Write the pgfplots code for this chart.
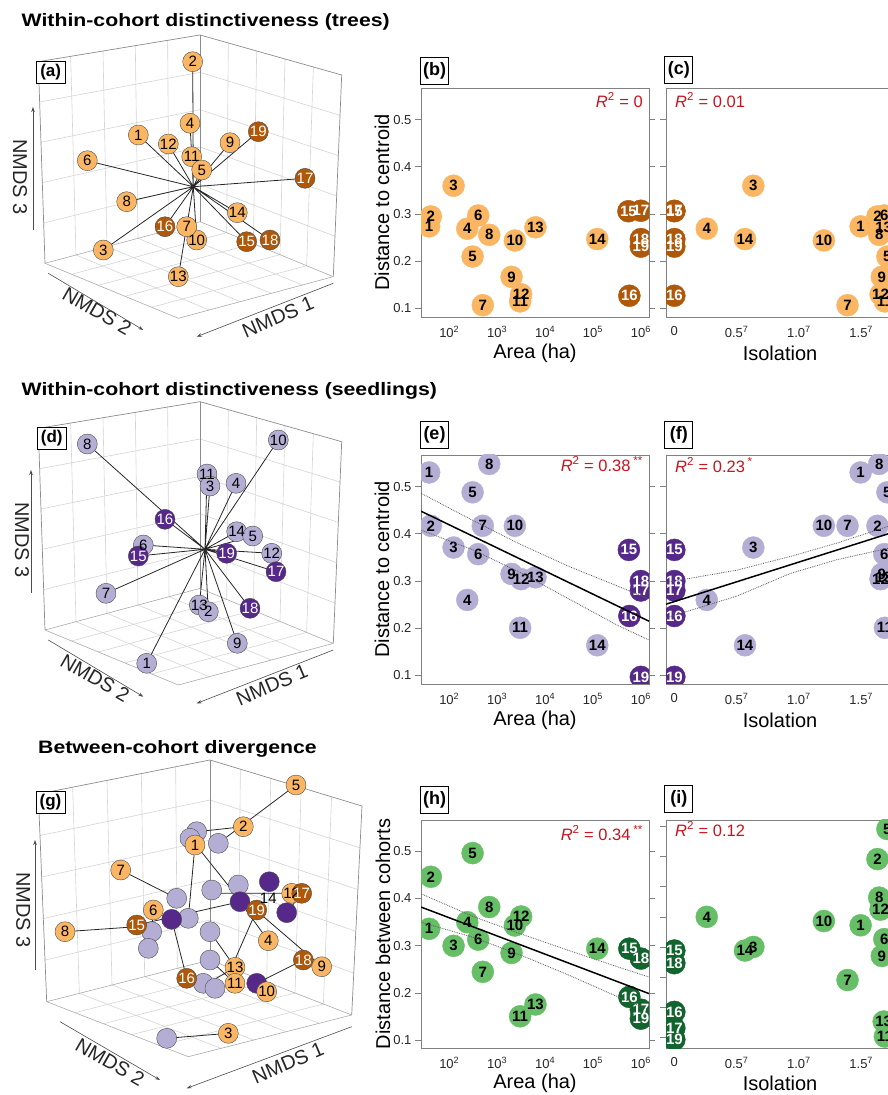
\documentclass[border=0pt]{standalone}
\usepackage{pgfplots}
\pgfplotsset{compat=1.18}
\usepackage{pgfplotstable}
\usepackage{fontspec}
\setmainfont{Liberation Sans}
\usetikzlibrary{calc,arrows.meta}

\definecolor{orL}{RGB}{250,182,98}
\definecolor{orD}{RGB}{176,88,10}
\definecolor{puL}{RGB}{180,173,212}
\definecolor{puD}{RGB}{86,40,138}
\definecolor{grL}{RGB}{102,190,102}
\definecolor{grD}{RGB}{18,100,46}
\definecolor{rr}{RGB}{200,20,30}
\definecolor{gridc}{RGB}{212,212,212}
\definecolor{boxc}{RGB}{140,140,140}

% ---------- 2D data: id, log10(area), isolation, distance, class, group
\pgfplotstableread{
id la iso y c g
1 1.58 1.495 0.274 L 0
2 1.615 1.63 0.295 L 0
3 2.09 0.634 0.360 L 0
4 2.376 0.26 0.269 L 0
5 2.487 1.71 0.210 L 0
6 2.605 1.685 0.297 L 0
7 2.70 1.39 0.107 L 0
8 2.835 1.644 0.256 L 0
9 3.30 1.665 0.167 L 0
10 3.37 1.20 0.244 L 0
11 3.48 1.69 0.115 L 0
12 3.50 1.655 0.130 L 0
13 3.80 1.68 0.272 L 0
14 5.09 0.567 0.247 L 0
15 5.74 0 0.306 D 1
16 5.76 0 0.127 D 1
17 6.00 0 0.307 D 1
18 6.00 0 0.247 D 1
19 6.00 0 0.231 D 1
}\rowA

\pgfplotstableread{
id la iso y c g
1 1.58 1.495 0.530 L 0
2 1.615 1.63 0.417 L 0
3 2.09 0.634 0.371 L 0
4 2.376 0.26 0.260 L 0
5 2.487 1.71 0.488 L 0
6 2.605 1.685 0.357 L 0
7 2.70 1.39 0.417 L 0
8 2.835 1.644 0.548 L 0
9 3.30 1.665 0.315 L 0
10 3.37 1.20 0.417 L 0
11 3.48 1.69 0.201 L 0
12 3.50 1.655 0.304 L 0
13 3.80 1.68 0.308 L 0
14 5.09 0.567 0.164 L 0
15 5.75 0 0.366 D 1
16 5.76 0 0.226 D 1
17 6.00 0 0.280 D 1
18 6.00 0 0.300 D 1
19 6.00 0 0.097 D 1
}\rowB

\pgfplotstableread{
id la iso y c g
1 1.58 1.495 0.336 L 0
2 1.615 1.63 0.446 L 0
3 2.09 0.634 0.300 L 0
4 2.376 0.26 0.350 L 0
5 2.487 1.71 0.496 L 0
6 2.605 1.685 0.313 L 0
7 2.70 1.39 0.245 L 0
8 2.835 1.644 0.382 L 0
9 3.30 1.665 0.285 L 0
10 3.37 1.20 0.343 L 0
11 3.48 1.69 0.151 L 0
12 3.50 1.655 0.362 L 0
13 3.80 1.68 0.176 L 0
14 5.09 0.567 0.294 L 0
15 5.76 0 0.294 D 1
16 5.76 0 0.192 D 1
17 6.00 0 0.165 D 1
18 6.00 0 0.273 D 1
19 6.00 0 0.146 D 1
}\rowC

% ---------- 3D panels, projected positions (pixels, y downwards)
\pgfplotstableread{
x y c g lab
192.7 61.7 L 0 2
190 123.3 L 0 4
138.3 135 L 0 1
168.3 144 L 0 12
191.7 156.7 L 0 11
201.7 170 L 0 5
230 142.7 L 0 9
258.3 131.7 D 1 19
87.3 160.7 L 0 6
305 178.3 D 1 17
126.7 201.7 L 0 8
237.3 212.7 L 0 14
196.7 240 L 0 10
165 226.7 D 1 16
186.7 226.7 L 0 7
103.3 250 L 0 3
270 240 D 1 18
246.7 241.7 D 1 15
178.3 276.7 L 0 13
}\tdA

\pgfplotstableread{
x y c g lab
207 474 L 0 11
210 486 L 0 3
236 483.3 L 0 4
278.3 440 L 0 10
87.3 444 L 0 8
236.7 531.7 L 0 14
252.7 536 L 0 5
271.7 553.3 L 0 12
143.3 545 L 0 6
146.7 663.3 L 0 1
199.3 605 L 0 13
208.3 611.7 L 0 2
237.3 643.3 L 0 9
106 593.3 L 0 7
165 519.3 D 1 16
138.3 556 D 1 15
226.7 553.3 D 1 19
276 571.7 D 1 17
250 608.3 D 1 18
}\tdD

\pgfplotstableread{
x y c
196.7 831.7 L
190 838.3 L
218.3 843.3 L
176.7 898.3 L
211.7 890 L
238.3 885 L
188.3 918.3 L
151.7 931.7 L
148.3 948.3 L
210 931.7 L
210 960 L
203.3 983.3 L
215 988.3 L
166.7 1038.3 L
269.3 881.7 D
240 901.7 D
171.7 919.3 D
286.7 912.7 D
256.7 983.3 D
}\tdGs

\pgfplotstableread{
x y c g lab
296 785 L 0 5
243.3 826.7 L 0 2
195 845 L 0 1
120.7 870 L 0 7
291.7 893.3 L 0 12
301.7 893.3 D 1 17
153.3 910 L 0 6
256.7 910 D 1 19
136.7 925 D 1 15
65 931.7 L 0 8
268.3 940.7 L 0 4
303.3 960 D 1 18
321.7 966.7 L 0 9
235 967.3 L 0 13
186.7 978.3 D 1 16
235 983.3 L 0 11
266.7 991.7 L 0 10
228.3 1033.3 L 0 3
}\tdGt

\pgfplotsset{
  /pgf/number format/assume math mode=true,
  circ/.style n args={3}{scatter, only marks, mark size=#3,
    scatter src=explicit symbolic,
    scatter/classes={L={mark=*, fill=#1, draw=#1}, D={mark=*, fill=#2, draw=#2}}},
  circ3/.style 2 args={scatter, only marks, mark size=10pt,
    scatter src=explicit symbolic,
    scatter/classes={L={mark=*, fill=#1, draw=black!70}, D={mark=*, fill=#2, draw=black!70}}},
  labs/.style 2 args={draw=none, mark=none, point meta=explicit symbolic,
    nodes near coords, nodes near coords align=center,
    restrict expr to domain={\thisrow{g}}{#2:#2},
    every node near coord/.append style={font=\bfseries\fontsize{15}{15}\selectfont,
      text=#1, inner sep=0pt, anchor=center}},
  labs3/.style 2 args={draw=none, mark=none, point meta=explicit symbolic,
    nodes near coords, nodes near coords align=center,
    restrict expr to domain={\thisrow{g}}{#2:#2},
    every node near coord/.append style={font=\fontsize{15}{15}\selectfont,
      text=#1, inner sep=0pt, anchor=center}},
  seg/.style={line width=0.8pt, black!85, unbounded coords=jump},
  pan/.style={scale only axis, width=228pt, height=229pt,
    clip mode=individual, clip marker paths=true,
    axis line style={draw=black!50, line width=0.7pt},
    tick align=outside, major tick length=6pt,
    xtick style={draw=none}, ytick style={draw=black!50, line width=0.7pt},
    ymin=0.082, ymax=0.567, ytick={0.1,0.2,0.3,0.4,0.5},
    tick label style={font=\fontsize{13}{15}\selectfont, text=black!85},
    label style={font=\fontsize{20}{24}\selectfont},
    xlabel style={at={(axis description cs:0.5,-0.157)}, anchor=center},
    ylabel style={at={(axis description cs:-0.171,0.5)}, anchor=center}},
  areaax/.style={pan, xmin=1.41, xmax=6.17, xtick={2,3,4,5,6},
    xticklabels={10\textsuperscript{2},10\textsuperscript{3},10\textsuperscript{4},10\textsuperscript{5},10\textsuperscript{6}},
    yticklabels={0.1,0.2,0.3,0.4,0.5}, xlabel={Area (ha)}},
  isoax/.style={pan, xmin=-0.067, xmax=1.763, xtick={0,0.5,1,1.5},
    xticklabels={0,0.5\textsuperscript{7},1.0\textsuperscript{7},1.5\textsuperscript{7}},
    yticklabels={}, xlabel={Isolation}},
  regl/.style={black, line width=1.5pt},
  band/.style={black!65, densely dotted, line width=0.8pt},
}

\newcommand{\cube}[7]{%
  \begin{scope}[x=1pt,y=-1pt,shift={(0pt,1095pt)}]
  \coordinate (TL) at #1; \coordinate (TB) at #2; \coordinate (TR) at #3;
  \coordinate (BL) at #4; \coordinate (BB) at #5; \coordinate (BR) at #6;
  \coordinate (BF) at #7;
  \foreach \k in {1,2,3,4}{
    \draw[gridc, line width=0.6pt] ($(TL)!\k/5!(TB)$) -- ($(BL)!\k/5!(BB)$);
    \draw[gridc, line width=0.6pt] ($(TL)!\k/5!(BL)$) -- ($(TB)!\k/5!(BB)$);
    \draw[gridc, line width=0.6pt] ($(TB)!\k/5!(TR)$) -- ($(BB)!\k/5!(BR)$);
    \draw[gridc, line width=0.6pt] ($(TB)!\k/5!(BB)$) -- ($(TR)!\k/5!(BR)$);
    \draw[gridc, line width=0.6pt] ($(BL)!\k/5!(BB)$) -- ($(BF)!\k/5!(BR)$);
    \draw[gridc, line width=0.6pt] ($(BB)!\k/5!(BR)$) -- ($(BL)!\k/5!(BF)$);
  }
  \draw[boxc, line width=0.7pt] (BL) -- (TL) -- (TB) -- (TR) -- (BR);
  \draw[boxc, line width=0.7pt] (TB) -- (BB);
  \draw[gridc!80!black, line width=0.6pt] (BL) -- (BB) -- (BR);
  \draw[gridc!80!black, line width=0.6pt] (BL) -- (BF) -- (BR);
  \end{scope}}

\begin{document}
\begin{tikzpicture}

% 3D boxes
\cube{(38.3,61.7)}{(200,35)}{(341.7,75)}{(45,263.3)}{(200,221.7)}{(333.3,276.7)}{(178.3,318.3)}
\cube{(38.3,428.4)}{(200,401.7)}{(341.7,441.7)}{(45,630)}{(200,588.4)}{(333.3,643.4)}{(178.3,685)}
\cube{(38.3,794)}{(210,760)}{(362,806)}{(46.7,1001.7)}{(210,960)}{(351.7,1015)}{(188.3,1056.7)}

% overlay axis for the projected 3D ordinations
\begin{axis}[at={(0pt,0pt)}, anchor=south west, scale only axis,
  width=887pt, height=1095pt, xmin=0, xmax=887, ymin=0, ymax=1095,
  y dir=reverse, hide axis, clip=false]
% (a)
\addplot[circ3={orL}{orD}] table[x=x,y=y,meta=c]{\tdA};
\addplot[labs3={black}{0}] table[x=x,y=y,meta=lab]{\tdA};
\addplot[labs3={white}{1}] table[x=x,y=y,meta=lab]{\tdA};
\addplot[seg] coordinates {
(193.3,186.7)(192.7,61.7)(nan,nan) (193.3,186.7)(190,123.3)(nan,nan)
(193.3,186.7)(138.3,135)(nan,nan) (193.3,186.7)(168.3,144)(nan,nan)
(193.3,186.7)(191.7,156.7)(nan,nan) (193.3,186.7)(201.7,170)(nan,nan)
(193.3,186.7)(230,142.7)(nan,nan) (193.3,186.7)(258.3,131.7)(nan,nan)
(193.3,186.7)(87.3,160.7)(nan,nan) (193.3,186.7)(305,178.3)(nan,nan)
(193.3,186.7)(126.7,201.7)(nan,nan) (193.3,186.7)(237.3,212.7)(nan,nan)
(193.3,186.7)(196.7,240)(nan,nan) (193.3,186.7)(165,226.7)(nan,nan)
(193.3,186.7)(186.7,226.7)(nan,nan) (193.3,186.7)(103.3,250)(nan,nan)
(193.3,186.7)(270,240)(nan,nan) (193.3,186.7)(246.7,241.7)(nan,nan)
(193.3,186.7)(178.3,276.7)};
% (d)
\addplot[circ3={puL}{puD}] table[x=x,y=y,meta=c]{\tdD};
\addplot[labs3={black}{0}] table[x=x,y=y,meta=lab]{\tdD};
\addplot[labs3={white}{1}] table[x=x,y=y,meta=lab]{\tdD};
\addplot[seg] coordinates {
(205,549.3)(207,474)(nan,nan) (205,549.3)(210,486)(nan,nan)
(205,549.3)(236,483.3)(nan,nan) (205,549.3)(278.3,440)(nan,nan)
(205,549.3)(87.3,444)(nan,nan) (205,549.3)(236.7,531.7)(nan,nan)
(205,549.3)(252.7,536)(nan,nan) (205,549.3)(271.7,553.3)(nan,nan)
(205,549.3)(143.3,545)(nan,nan) (205,549.3)(146.7,663.3)(nan,nan)
(205,549.3)(199.3,605)(nan,nan) (205,549.3)(208.3,611.7)(nan,nan)
(205,549.3)(237.3,643.3)(nan,nan) (205,549.3)(106,593.3)(nan,nan)
(205,549.3)(165,519.3)(nan,nan) (205,549.3)(138.3,556)(nan,nan)
(205,549.3)(226.7,553.3)(nan,nan) (205,549.3)(276,571.7)(nan,nan)
(205,549.3)(250,608.3)};
% (g)
\addplot[circ3={puL}{puD}] table[x=x,y=y,meta=c]{\tdGs};
\addplot[circ3={orL}{orD}] table[x=x,y=y,meta=c]{\tdGt};
\addplot[labs3={black}{0}] table[x=x,y=y,meta=lab]{\tdGt};
\addplot[labs3={white}{1}] table[x=x,y=y,meta=lab]{\tdGt};
\addplot[draw=none, mark=none, nodes near coords={14}, nodes near coords align=center,
  every node near coord/.append style={font=\fontsize{15}{15}\selectfont, inner sep=0pt, anchor=center}]
  coordinates {(268.3,898.3)};
\addplot[seg] coordinates {
(296,785)(218.3,843.3)(nan,nan) (243.3,826.7)(196.7,831.7)(nan,nan)
(195,845)(188.3,918.3)(nan,nan) (200,850)(238.3,898)(nan,nan)
(120.7,870)(176.7,898.3)(nan,nan) (65,931.7)(136.7,926.7)(nan,nan)
(153.3,910)(151.7,931.7)(nan,nan) (136.7,925)(240,901.7)(nan,nan)
(211.7,893.3)(291.7,893.3)(nan,nan) (301.7,893.3)(286.7,912.7)(nan,nan)
(268.3,940.7)(240,901.7)(nan,nan) (321.7,966.7)(250,905)(nan,nan)
(256.7,910)(233.3,963.3)(nan,nan) (186.7,978.3)(171.7,919.3)(nan,nan)
(235,967.3)(210,931.7)(nan,nan) (235,983.3)(210,960)(nan,nan)
(205,985)(235,967.3)(nan,nan) (303.3,960)(256.7,983.3)(nan,nan)
(228.3,1033.3)(166.7,1038.3)};
\end{axis}

% (b)
\begin{axis}[areaax, at={(421pt,778pt)}, anchor=south west, ylabel={Distance to centroid}]
\addplot[circ={orL}{orD}{11pt}] table[x=la,y=y,meta=c]{\rowA};
\addplot[labs={black}{0}] table[x=la,y=y,meta=id]{\rowA};
\addplot[labs={white}{1}] table[x=la,y=y,meta=id]{\rowA};
\end{axis}
% (c)
\begin{axis}[isoax, at={(666pt,778pt)}, anchor=south west]
\addplot[circ={orL}{orD}{11pt}] table[x=iso,y=y,meta=c]{\rowA};
\addplot[labs={black}{0}] table[x=iso,y=y,meta=id]{\rowA};
\addplot[labs={white}{1}] table[x=iso,y=y,meta=id]{\rowA};
\end{axis}
% (e)
\begin{axis}[areaax, at={(421pt,411pt)}, anchor=south west, ylabel={Distance to centroid}]
\addplot[circ={puL}{puD}{11pt}] table[x=la,y=y,meta=c]{\rowB};
\addplot[labs={black}{0}] table[x=la,y=y,meta=id]{\rowB};
\addplot[labs={white}{1}] table[x=la,y=y,meta=id]{\rowB};
\addplot[band] coordinates {(1.41,0.486)(2.5,0.428)(3.5,0.377)(4.5,0.331)(5.5,0.290)(6.17,0.262)};
\addplot[band] coordinates {(1.41,0.408)(2.5,0.366)(3.5,0.317)(4.5,0.262)(5.5,0.207)(6.17,0.175)};
\addplot[regl] coordinates {(1.41,0.448)(6.17,0.215)};
\end{axis}
% (f)
\begin{axis}[isoax, at={(666pt,411pt)}, anchor=south west]
\addplot[circ={puL}{puD}{11pt}] table[x=iso,y=y,meta=c]{\rowB};
\addplot[labs={black}{0}] table[x=iso,y=y,meta=id]{\rowB};
\addplot[labs={white}{1}] table[x=iso,y=y,meta=id]{\rowB};
\addplot[band] coordinates {(-0.067,0.297)(0.5,0.323)(0.93,0.352)(1.3,0.380)(1.763,0.420)};
\addplot[band] coordinates {(-0.067,0.222)(0.5,0.268)(0.93,0.316)(1.3,0.345)(1.763,0.372)};
\addplot[regl] coordinates {(-0.067,0.251)(1.763,0.404)};
\end{axis}
% (h)
\begin{axis}[areaax, at={(421pt,47pt)}, anchor=south west, height=228pt,
  ymin=0.084, ymax=0.566, ylabel={Distance between cohorts},
  ylabel style={at={(axis description cs:-0.167,0.5)}}]
\addplot[circ={grL}{grD}{11pt}] table[x=la,y=y,meta=c]{\rowC};
\addplot[labs={black}{0}] table[x=la,y=y,meta=id]{\rowC};
\addplot[labs={white}{1}] table[x=la,y=y,meta=id]{\rowC};
\addplot[band] coordinates {(1.41,0.410)(2.5,0.362)(3.5,0.325)(4.5,0.290)(5.5,0.256)(6.17,0.234)};
\addplot[band] coordinates {(1.41,0.350)(2.5,0.318)(3.5,0.280)(4.5,0.238)(5.5,0.193)(6.17,0.165)};
\addplot[regl] coordinates {(1.41,0.382)(6.17,0.199)};
\end{axis}
% (i)
\begin{axis}[isoax, at={(666pt,47pt)}, anchor=south west, height=228pt,
  ymin=0.132, ymax=0.511, ytick={0.15,0.2,0.25,0.3,0.35,0.4,0.45,0.5}]
\addplot[circ={grL}{grD}{11pt}] table[x=iso,y=y,meta=c]{\rowC};
\addplot[labs={black}{0}] table[x=iso,y=y,meta=id]{\rowC};
\addplot[labs={white}{1}] table[x=iso,y=y,meta=id]{\rowC};
\end{axis}

% texts
\begin{scope}[x=1pt,y=-1pt,shift={(0pt,1095pt)},
  ttl/.style={anchor=base west, inner sep=0pt, font=\bfseries\fontsize{18}{20}\selectfont},
  plab/.style={draw=black, line width=0.8pt, fill=white, font=\bfseries\fontsize{18}{18}\selectfont,
    minimum width=28pt, minimum height=27pt, inner sep=1pt},
  plab3/.style={draw=black, line width=0.8pt, fill=white, font=\bfseries\fontsize{17}{17}\selectfont,
    minimum width=29pt, minimum height=22pt, inner sep=1pt},
  r2/.style={text=rr, font=\fontsize{16.5}{18}\selectfont, inner sep=0pt},
  nm/.style={font=\fontsize{20}{22}\selectfont, text=black!85},
  arr/.style={-{Stealth[length=5pt,width=3.5pt]}, black!70, line width=0.6pt}]
\node[ttl] at (21.5,27) {\scalebox{1.18}[1]{Within-cohort distinctiveness (trees)}};
\node[ttl] at (21.5,396) {\scalebox{1.18}[1]{Within-cohort distinctiveness (seedlings)}};
\node[ttl] at (38,754) {\scalebox{1.18}[1]{Between-cohort divergence}};

\node[plab3] at (50.7,72.5) {(a)};
\node[plab3] at (51.8,438) {(d)};
\node[plab3] at (50.5,802.5) {(g)};
\node[plab] at (434.5,70.5) {(b)};
\node[plab] at (678.8,70) {(c)};
\node[plab] at (434.5,435) {(e)};
\node[plab] at (678.8,435) {(f)};
\node[plab] at (434.5,799.5) {(h)};
\node[plab] at (678.8,799) {(i)};

\node[r2, anchor=east] at (643,100) {\textit{R}\textsuperscript{2} = 0};
\node[r2, anchor=west] at (675,100) {\textit{R}\textsuperscript{2} = 0.01};
\node[r2, anchor=east] at (643,464) {\textit{R}\textsuperscript{2} = 0.38\,\textsuperscript{**}};
\node[r2, anchor=west] at (675,465) {\textit{R}\textsuperscript{2} = 0.23\,\textsuperscript{*}};
\node[r2, anchor=east] at (643,833) {\textit{R}\textsuperscript{2} = 0.34\,\textsuperscript{**}};
\node[r2, anchor=west] at (675,829) {\textit{R}\textsuperscript{2} = 0.12};

% NMDS axis labels and arrows
\node[nm, rotate=-90] at (20,177) {NMDS 3};
\draw[arr] (33,230) -- (33,107);
\node[nm, rotate=-30] at (97,311) {NMDS 2};
\draw[arr] (48.3,273.3) -- (143.3,330);
\node[nm, rotate=23] at (278,317) {NMDS 1};
\draw[arr] (333.3,283.3) -- (196.7,336.7);

\node[nm, rotate=-90] at (22,540) {NMDS 3};
\draw[arr] (31,593) -- (31,470);
\node[nm, rotate=-30] at (95,678) {NMDS 2};
\draw[arr] (48.3,640) -- (143.3,696.7);
\node[nm, rotate=23] at (272,685) {NMDS 1};
\draw[arr] (333.3,650) -- (196.7,703.4);

\node[nm, rotate=-90] at (23.3,910) {NMDS 3};
\draw[arr] (35,970) -- (35,840);
\node[nm, rotate=-30] at (110,1062) {NMDS 2};
\draw[arr] (60,1021.7) -- (160,1080);
\node[nm, rotate=23] at (288,1063) {NMDS 1};
\draw[arr] (351.7,1026.7) -- (186.7,1088.3);
\end{scope}

\pgfresetboundingbox
\path[use as bounding box] (0pt,0pt) rectangle (887pt,1095pt);
\end{tikzpicture}
\end{document}
